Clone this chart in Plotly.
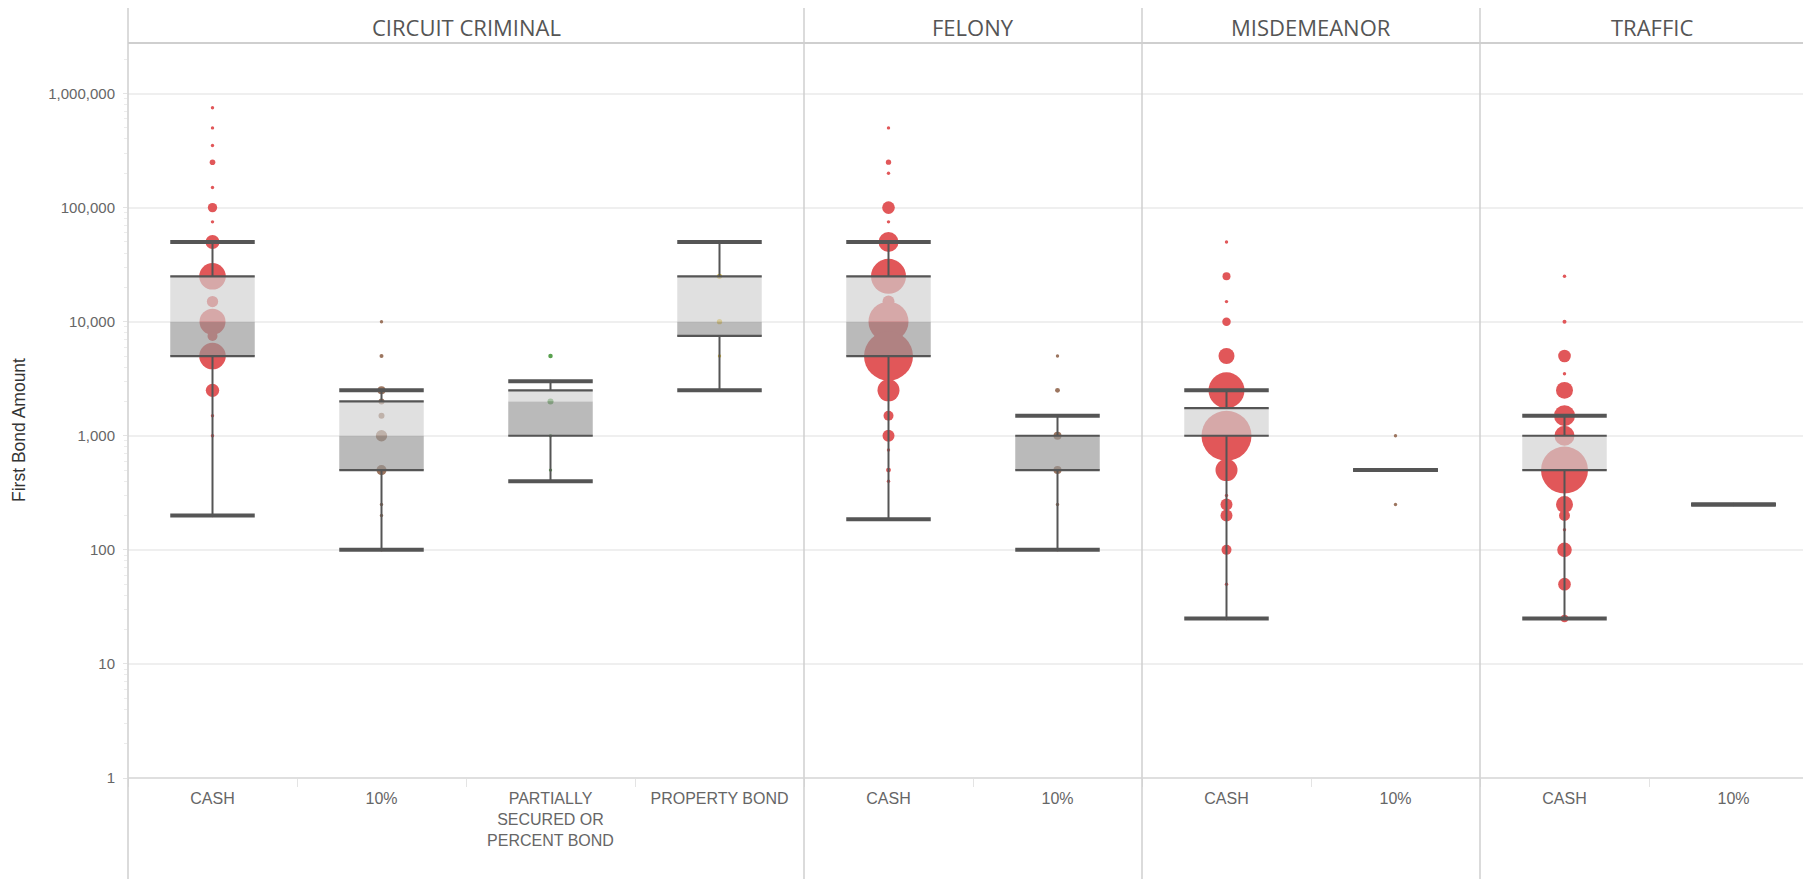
import plotly.graph_objects as go
from plotly.subplots import make_subplots

# ---------------- data ----------------
court_types = ["CIRCUIT CRIMINAL", "FELONY", "MISDEMEANOR", "TRAFFIC"]

cc_bond_types = ["CASH", "10%", "PARTIALLY<br>SECURED OR<br>PERCENT BOND", "PROPERTY BOND"]
felony_bond_types = ["CASH", "10%"]
misd_bond_types = ["CASH", "10%"]
traffic_bond_types = ["CASH", "10%"]

# first bond amounts (distinct values) and number of cases at each value
cc_cash_amount = [750000, 500000, 350000, 250000, 150000, 100000, 75000, 50000, 25000, 15000,
                  10000, 7500, 5000, 2500, 1500, 1000, 200]
cc_cash_count = [2, 2, 2, 8, 2, 22, 2, 49, 177, 32, 169, 25, 177, 45, 2, 3, 2]

cc_pct_amount = [10000, 5000, 2500, 2000, 1500, 1000, 500, 250, 200, 100]
cc_pct_count = [2, 4, 16, 9, 9, 32, 25, 2, 2, 2]

cc_partial_amount = [5000, 3000, 2000, 1000, 500, 400]
cc_partial_count = [5, 2, 9, 2, 2, 2]

cc_property_amount = [50000, 25000, 10000, 5000, 2500]
cc_property_count = [2, 7, 7, 2, 2]

felony_cash_amount = [500000, 250000, 200000, 100000, 75000, 50000, 25000, 15000, 10000, 5000,
                      2500, 1500, 1000, 750, 500, 400, 185]
felony_cash_count = [2, 7, 2, 40, 2, 100, 306, 36, 400, 600, 121, 25, 36, 2, 6, 3, 2]

felony_pct_amount = [5000, 2500, 1000, 500, 250, 100]
felony_pct_count = [2, 6, 16, 16, 2, 2]

misd_cash_amount = [50000, 25000, 15000, 10000, 5000, 2500, 1000, 500, 300, 250, 200, 100, 50, 25]
misd_cash_count = [2, 16, 2, 18, 64, 324, 625, 121, 2, 36, 36, 25, 2, 2]

misd_pct_amount = [1000, 500, 250]
misd_pct_count = [2, 3, 2]

traffic_cash_amount = [25000, 10000, 5000, 3500, 2500, 1500, 1000, 500, 250, 200, 150, 100, 50, 25]
traffic_cash_count = [3, 4, 40, 2, 72, 110, 100, 552, 72, 30, 2, 53, 40, 14]

traffic_pct_amount = [250]
traffic_pct_count = [2]

# box-plot statistics per panel: [lower whisker, Q1, median, Q3, upper whisker]
cc_box = [[200, 5000, 10000, 25000, 50000],
          [100, 500, 1000, 2000, 2500],
          [400, 1000, 2000, 2500, 3000],
          [2500, 7500, 10000, 25000, 50000]]
felony_box = [[185, 5000, 10000, 25000, 50000],
              [100, 500, 1000, 1000, 1500]]
misd_box = [[25, 1000, 1000, 1750, 2500],
            [500, 500, 500, 500, 500]]
traffic_box = [[25, 500, 500, 1000, 1500],
               [250, 250, 250, 250, 250]]

y_tick_vals = [1, 10, 100, 1000, 10000, 100000, 1000000]
y_tick_text = ["1", "10", "100", "1,000", "10,000", "100,000", "1,000,000"]

bond_colors = {"CASH": "#e15759", "10%": "#9c755f",
               "PARTIALLY<br>SECURED OR<br>PERCENT BOND": "#59a14f",
               "PROPERTY BOND": "#e2c041"}

panels = [
    (cc_bond_types, [(cc_cash_amount, cc_cash_count), (cc_pct_amount, cc_pct_count),
                     (cc_partial_amount, cc_partial_count), (cc_property_amount, cc_property_count)], cc_box),
    (felony_bond_types, [(felony_cash_amount, felony_cash_count), (felony_pct_amount, felony_pct_count)], felony_box),
    (misd_bond_types, [(misd_cash_amount, misd_cash_count), (misd_pct_amount, misd_pct_count)], misd_box),
    (traffic_bond_types, [(traffic_cash_amount, traffic_cash_count), (traffic_pct_amount, traffic_pct_count)], traffic_box),
]

# ---------------- layout geometry (page body has an 8px margin) ----------------
W, H = 1803, 871
ML, MT, MB = 120, 35, 101
PW = W - ML
PH = H - MT - MB
col_px = [676, 338, 338, 331]
x_ranges = [[-0.5, 3.5], [-0.5, 1.5], [-0.5, 1.5], [-0.5, -0.5 + 331 / 169.0]]

TICK_FONT = "Liberation Sans, Arial, sans-serif"

fig = make_subplots(rows=1, cols=4, shared_yaxes=True, column_widths=col_px,
                    horizontal_spacing=0)

HALF = 0.25
LINE = "#555555"

for c, (cats, series, boxes) in enumerate(panels, start=1):
    # dots
    for i, (amt, cnt) in enumerate(series):
        fig.add_trace(go.Scatter(
            x=[i] * len(amt), y=amt, mode="markers",
            marker=dict(size=cnt, sizemode="area", sizeref=0.5, sizemin=1.7, opacity=1,
                        color=bond_colors[cats[i]], line=dict(width=0)),
            showlegend=False, hoverinfo="y"), row=1, col=c)
    # box bands (drawn over the dots, semi-transparent)
    for i, (lo, q1, med, q3, hi) in enumerate(boxes):
        if q3 > med:
            fig.add_trace(go.Scatter(
                x=[i - HALF, i + HALF, i + HALF, i - HALF, i - HALF],
                y=[med, med, q3, q3, med], mode="lines", fill="toself",
                fillcolor="rgba(208,208,208,0.667)", line=dict(width=0),
                showlegend=False, hoverinfo="skip"), row=1, col=c)
        if med > q1:
            fig.add_trace(go.Scatter(
                x=[i - HALF, i + HALF, i + HALF, i - HALF, i - HALF],
                y=[q1, q1, med, med, q1], mode="lines", fill="toself",
                fillcolor="rgba(151,151,151,0.667)", line=dict(width=0),
                showlegend=False, hoverinfo="skip"), row=1, col=c)
    # whiskers and box edges
    for i, (lo, q1, med, q3, hi) in enumerate(boxes):
        fig.add_trace(go.Scatter(
            x=[i, i, None, i, i], y=[lo, q1, None, q3, hi], mode="lines",
            line=dict(color=LINE, width=2), showlegend=False, hoverinfo="skip"), row=1, col=c)
        fig.add_trace(go.Scatter(
            x=[i - HALF, i + HALF, None, i - HALF, i + HALF], y=[q1, q1, None, q3, q3],
            mode="lines", line=dict(color=LINE, width=2.2), showlegend=False,
            hoverinfo="skip"), row=1, col=c)
        fig.add_trace(go.Scatter(
            x=[i - HALF, i + HALF, None, i - HALF, i + HALF], y=[lo, lo, None, hi, hi],
            mode="lines", line=dict(color=LINE, width=4), showlegend=False,
            hoverinfo="skip"), row=1, col=c)

    fig.update_xaxes(row=1, col=c, range=x_ranges[c - 1],
                     tickmode="array", tickvals=list(range(len(cats))), ticktext=cats,
                     showgrid=False, zeroline=False, showline=False, ticks="",
                     ticklabelstandoff=9,
                     minor=dict(tick0=0.5, dtick=1, ticks="outside", ticklen=8,
                                tickcolor="#e4e4e4", tickwidth=1, showgrid=False),
                     tickfont=dict(family=TICK_FONT, size=16, color="#666666"))
    fig.update_yaxes(row=1, col=c, type="log", range=[0, 6.443],
                     tickmode="array", tickvals=y_tick_vals, ticktext=y_tick_text,
                     showgrid=True, gridcolor="#efefef", gridwidth=1.5,
                     zeroline=False, showline=False,
                     showticklabels=(c == 1), ticks="outside" if c == 1 else "",
                     ticklen=4, tickcolor="#e4e4e4",
                     ticklabelstandoff=5,
                     minor=dict(ticks="outside" if c == 1 else "", ticklen=3,
                                tickcolor="#ececec", dtick="D1", showgrid=False),
                     tickfont=dict(family=TICK_FONT, size=15, color="#666666"))

# ---------------- frame, headers, titles ----------------
shapes = []
bounds = [0]
acc = 0
for w in col_px:
    acc += w
    bounds.append(acc)
for b in bounds[:-1]:
    shapes.append(dict(type="line", xref="paper", yref="paper",
                       x0=b / PW, x1=b / PW, y0=-MB / PH, y1=1 + MT / PH,
                       line=dict(color="#cfcfcf", width=1.5)))
shapes.append(dict(type="line", xref="paper", yref="paper", x0=0, x1=1, y0=1, y1=1,
                   line=dict(color="#cfcfcf", width=2)))
shapes.append(dict(type="line", xref="paper", yref="paper", x0=0, x1=1, y0=0, y1=0,
                   line=dict(color="#d4d4d4", width=1.5)))

annotations = []
header_centers = [338, 676 + 169, 1014 + 169, 1352 + 169 + 3]
for name, cx in zip(court_types, header_centers):
    annotations.append(dict(text=name, xref="paper", yref="paper", x=cx / PW,
                            y=1 + (MT - 18.7) / PH, xanchor="center", yanchor="middle",
                            showarrow=False,
                            font=dict(family="Open Sans, Noto Sans, sans-serif", size=22, color="#555555")))
annotations.append(dict(text="First Bond Amount", xref="paper", yref="paper",
                        x=(11 - ML) / PW, y=(H - MB - 422) / PH, textangle=-90,
                        xanchor="center", yanchor="middle", showarrow=False,
                        font=dict(family="Liberation Sans, Arial, sans-serif", size=17.5, color="#333333")))

fig.update_layout(width=W, height=H, margin=dict(l=ML, r=0, t=MT, b=MB, pad=0),
                  paper_bgcolor="white", plot_bgcolor="white",
                  shapes=shapes, annotations=annotations, showlegend=False)

fig.write_html("out.html")
